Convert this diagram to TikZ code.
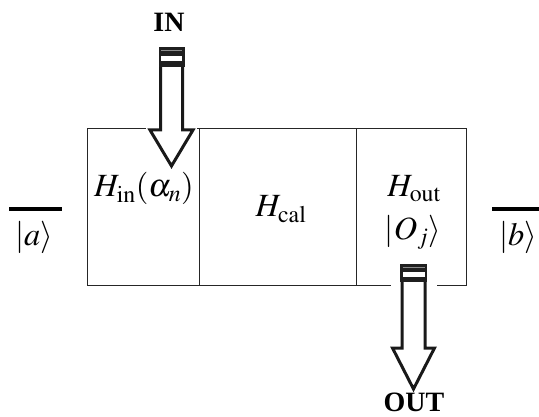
\documentclass[tikz,border=0pt]{standalone}
\usepackage{mathptmx}
\usepackage{fontspec}
\setmainfont{Liberation Serif}
\DeclareMathSizes{30}{30}{22}{17}
\newcommand{\mylabelmath}[1]{\scalebox{1.08}{$#1$}}
\begin{document}
\begin{tikzpicture}[x=1pt,y=-1pt,
  boxline/.style={draw=black!85, line width=1pt},
  wire/.style={draw=black, line width=3.2pt},
  blockarrow/.style={draw=black!90, line width=3pt, fill=white, line join=miter},
  lbl/.style={inner sep=0pt, anchor=base, font=\fontsize{30}{34}\selectfont},
  boldlbl/.style={inner sep=0pt, anchor=base, font=\fontsize{28}{32}\selectfont\bfseries}]
\useasboundingbox (0,0) rectangle (539,417);
% box
\draw[boxline] (87,129) rectangle (466,286);
\draw[boxline] (199,129) -- (199,286);
\draw[boxline] (356,129) -- (356,286);
% wires
\coordinate (la) at (9,209); \coordinate (lb) at (62,209);
\coordinate (ra) at (492,209); \coordinate (rb) at (539,209);
\draw[wire] (la) -- (lb);
\draw[wire] (ra) -- (rb);
% labels
\node[lbl] (ka) at (34,246) {\mylabelmath{|a\rangle}};
\node[lbl] (kb) at (518,246) {\mylabelmath{|b\rangle}};
\node[lbl] (hin) at (144,197) {\mylabelmath{H_{\mathrm{in}}(\alpha_n)}};
\node[lbl] (hcal) at (281,217) {\mylabelmath{H_{\mathrm{cal}}}};
\node[lbl] (hout) at (414,197) {\mylabelmath{H_{\mathrm{out}}}};
\node[lbl] (oj) at (413,240) {\mylabelmath{|O_j\rangle}};
\node[boldlbl] (in) at (169,32) {IN};
\node[boldlbl] (out) at (414,411) {OUT};
% IN arrow
\fill[white] (146,126) rectangle (197,133);
\draw[blockarrow] (160.5,64) -- (160.5,130) -- (150,130) -- (171.5,166) -- (193,130) -- (182.5,130) -- (182.5,64) -- cycle;
\fill[black!88] (158.5,47) rectangle (184.5,67);
\fill[white] (161,56) rectangle (182,61.5);
\draw[black!45, line width=0.8pt] (161,50.5) -- (182,50.5);
% OUT arrow
\fill[white] (391,282) rectangle (437,290);
\draw[blockarrow] (402,280) -- (402,348) -- (392.5,348) -- (413.5,389) -- (434.5,348) -- (425,348) -- (425,280) -- cycle;
\fill[black!88] (400,264) rectangle (427,282);
\fill[white] (402.5,272) rectangle (424.5,277);
\draw[black!45, line width=0.8pt] (402.5,267) -- (424.5,267);
\end{tikzpicture}
\end{document}
